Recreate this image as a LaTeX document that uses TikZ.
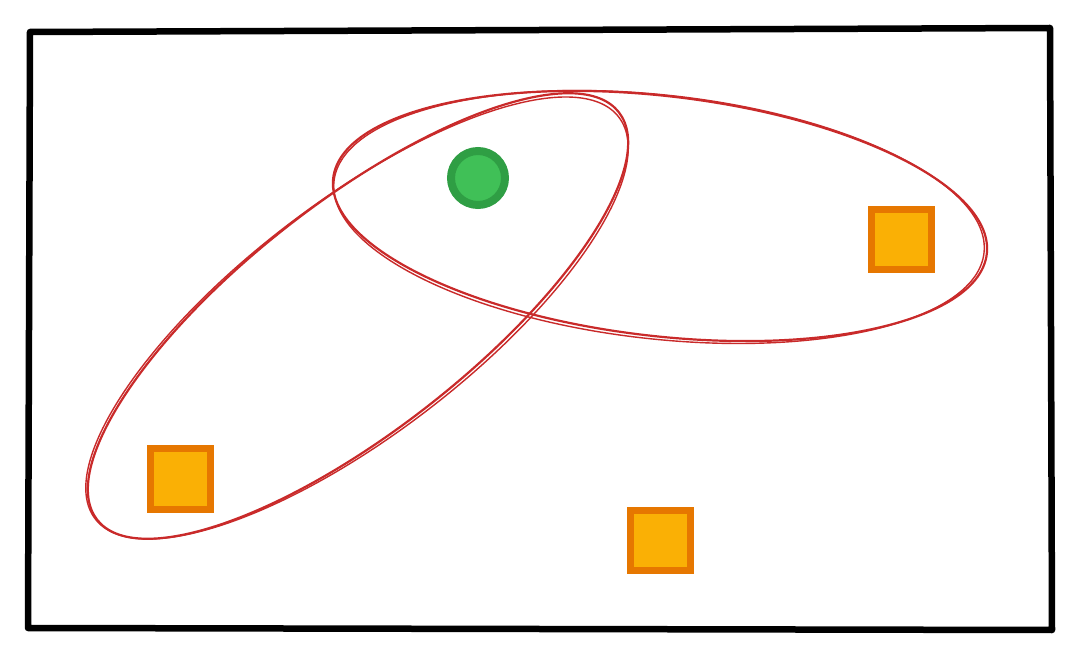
\documentclass[tikz,border=0pt]{standalone}
\begin{document}
\definecolor{frame}{HTML}{000000}
\definecolor{redline}{HTML}{C92A2A}
\definecolor{greenfill}{HTML}{40C057}
\definecolor{greenline}{HTML}{2F9E44}
\definecolor{orangefill}{HTML}{FAB005}
\definecolor{orangeline}{HTML}{E67700}
\begin{tikzpicture}[x=1pt,y=-1pt,
  sq/.style={draw=orangeline,fill=orangefill,line width=7pt,minimum width=60pt,minimum height=60pt,inner sep=0pt},
  dot/.style={circle,draw=greenline,fill=greenfill,line width=8pt,minimum size=54pt,inner sep=0pt},
  loop/.style={draw=redline,line width=2.2pt}]
\useasboundingbox[fill=white] (0,0) rectangle (1080,660);
% frame
\draw[frame,line width=6.5pt,line join=round] (30,32) -- (1050,28) -- (1052,630) -- (28,628) -- cycle;
% ellipses
\draw[loop,rotate around={38.0:(358,316)}] (358,316) ellipse [x radius=331,y radius=114];
\draw[loop,line width=1.4pt,rotate around={37.5:(357,318)}] (357,318) ellipse [x radius=330,y radius=116];
\draw[loop,rotate around={-6.6:(660,216)}] (660,216) ellipse [x radius=329,y radius=120];
\draw[loop,line width=1.4pt,rotate around={-6.3:(659,217)}] (659,217) ellipse [x radius=327,y radius=122];
% nodes
\node[dot] (g) at (478,178) {};
\node[sq] (s1) at (901,240) {};
\node[sq] (s2) at (180,479) {};
\node[sq] (s3) at (660,540) {};
\end{tikzpicture}
\end{document}
